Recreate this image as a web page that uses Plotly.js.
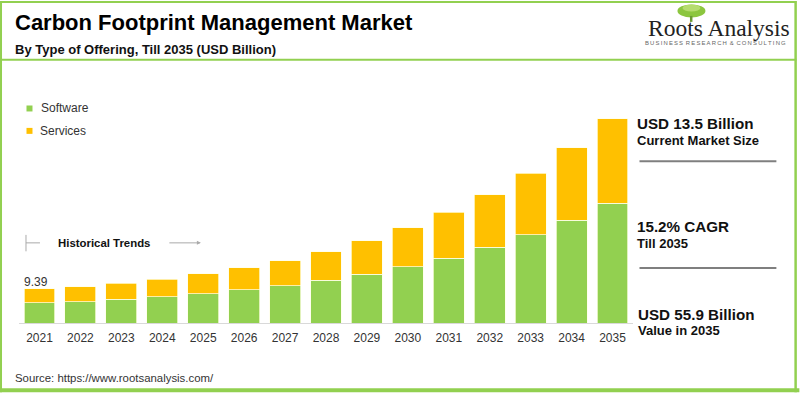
<!DOCTYPE html>
<html>
<head>
<meta charset="utf-8">
<script src="https://cdn.plot.ly/plotly-3.0.1.min.js"></script>
<style>html,body{margin:0;padding:0;background:#fff;}#chart{width:800px;height:393px;}</style>
</head>
<body>
<div id="chart"></div>
<script>
// ---- data ----
const years = ['2021','2022','2023','2024','2025','2026','2027','2028','2029','2030','2031','2032','2033','2034','2035'];
const software = [5.60, 5.86, 6.49, 7.22, 7.96, 9.05, 10.14, 11.77, 13.41, 15.40, 17.77, 20.76, 24.20, 28.12, 32.75];
const services = [3.79, 4.09, 4.35, 4.82, 5.54, 6.07, 6.89, 7.79, 9.07, 10.70, 12.53, 14.44, 16.81, 19.89, 23.15];
const seriesNames = ['Software', 'Services'];
const seriesColors = ['#92D050', '#FFC000'];
const firstLabel = '9.39';
const titleText = 'Carbon Footprint Management Market';
const subtitleText = 'By Type of Offering, Till 2035 (USD Billion)';
const sideTexts = [['USD 13.5 Billion', 'Current Market Size'], ['15.2% CAGR', 'Till 2035'], ['USD 55.9 Billion', 'Value in 2035']];
const sourceText = 'Source: https://www.rootsanalysis.com/';

// ---- layout helpers ----
const W = 800, H = 393;
const M = {l: 19, r: 166.5, t: 103.5, b: 69.5, pad: 0};
const PW = W - M.l - M.r, PH = H - M.t - M.b;
const px = x => (x - M.l) / PW;
const py = y => (H - M.b - y) / PH;
const FONT = 'Liberation Sans, Arial, sans-serif';
const GREEN = '#92D050';

const traces = [
  {type: 'bar', x: years, y: software, name: seriesNames[0], marker: {color: seriesColors[0], line: {color: 'rgba(255,255,230,0.9)', width: 0.8}}},
  {type: 'bar', x: years, y: services, name: seriesNames[1], marker: {color: seriesColors[1], line: {color: 'rgba(255,255,230,0.9)', width: 0.8}}}
];

function rect(x0, y0, x1, y1, color) {
  return {type: 'rect', xref: 'paper', yref: 'paper', x0: px(x0), x1: px(x1), y0: py(y0), y1: py(y1), fillcolor: color, line: {width: 0}, layer: 'above'};
}
function line(x0, y0, x1, y1, color, w) {
  return {type: 'line', xref: 'paper', yref: 'paper', x0: px(x0), x1: px(x1), y0: py(y0), y1: py(y1), line: {color: color, width: w}};
}
function txt(x, y, text, size, opts) {
  return Object.assign({xref: 'paper', yref: 'paper', x: px(x), y: py(y), text: text, showarrow: false, xanchor: 'left', yanchor: 'middle', font: {family: FONT, size: size, color: '#1a1a1a'}}, opts || {});
}
function bold(size) { return {family: FONT, size: size, color: '#111', weight: 'bold'}; }

const shapes = [
  rect(0, 0, 797, 2, GREEN),
  rect(0, 0, 2, 393, GREEN),
  rect(795, 0, 797.5, 393, GREEN),
  rect(0, 389, 800, 393, GREEN),
  rect(0, 58, 797, 60, GREEN),
  // legend swatches
  rect(26.5, 105, 32.5, 111, seriesColors[0]),
  rect(26.5, 127.5, 32.5, 133.5, seriesColors[1]),
  // historical bracket
  line(26, 235, 26, 251.5, '#aaaaaa', 1),
  line(26, 243, 40, 243, '#aaaaaa', 1),
  // side separators
  line(640, 161, 777, 161, '#7f7f7f', 2),
  line(640, 268.3, 777, 268.3, '#7f7f7f', 2),
  // logo tree
  {type: 'circle', xref: 'paper', yref: 'paper', x0: px(678), x1: px(706), y0: py(3.5), y1: py(16.5), fillcolor: '#8cc63f', line: {width: 0}, layer: 'above'},
  {type: 'circle', xref: 'paper', yref: 'paper', x0: px(683), x1: px(701), y0: py(3.5), y1: py(10.5), fillcolor: '#b5dc6e', line: {width: 0}, layer: 'above'},
  rect(690.5, 15, 693, 21, '#6a9a34')
];

const firstIdx = years.indexOf(years[0]);
const annotations = [
  txt(13, 48.5, subtitleText, 13, {font: bold(13)}),
  txt(39.5, 108, seriesNames[0], 12, {font: {family: FONT, size: 12, color: '#333'}}),
  txt(38.5, 130.5, seriesNames[1], 12, {font: {family: FONT, size: 12, color: '#333'}}),
  txt(56, 242.7, 'Historical Trends', 11.4, {font: bold(11.4)}),
  {xref: 'paper', yref: 'paper', x: px(201), y: py(243), ax: -33, ay: 0, text: '', showarrow: true, arrowhead: 2, arrowsize: 0.8, arrowwidth: 1, arrowcolor: '#aaaaaa'},
  {xref: 'x', yref: 'y', x: firstIdx, y: software[0] + services[0], text: firstLabel, showarrow: false, xanchor: 'center', yanchor: 'bottom', xshift: -3, yshift: -2, font: {family: FONT, size: 12, color: '#333'}},
  txt(636, 123.3, sideTexts[0][0], 15.2, {font: bold(15.2)}),
  txt(636, 140, sideTexts[0][1], 13, {font: bold(13)}),
  txt(636, 226.7, sideTexts[1][0], 15.2, {font: bold(15.2)}),
  txt(636, 243.3, sideTexts[1][1], 13, {font: bold(13)}),
  txt(637, 315, sideTexts[2][0], 15.2, {font: bold(15.2)}),
  txt(637, 331, sideTexts[2][1], 13, {font: bold(13)}),
  txt(13, 378.3, sourceText, 11.4, {font: {family: FONT, size: 11.4, color: '#333'}}),
  // logo
  txt(647, 27, 'Roots Analysis', 23.5, {font: {family: 'Liberation Serif, Times New Roman, serif', size: 23.5, color: '#222'}}),
  txt(644, 42.7, 'B\u2009U\u2009S\u2009I\u2009N\u2009E\u2009S\u2009S\u2009 R\u2009E\u2009S\u2009E\u2009A\u2009R\u2009C\u2009H\u2009 &\u2009 C\u2009O\u2009N\u2009S\u2009U\u2009L\u2009T\u2009I\u2009N\u2009G', 5.9, {font: {family: FONT, size: 5.9, color: '#666'}})
];

const layout = {
  width: W, height: H,
  margin: M,
  paper_bgcolor: '#ffffff', plot_bgcolor: '#ffffff',
  barmode: 'stack', bargap: 0.245,
  showlegend: false,
  title: {text: '<b>' + titleText + '</b>', x: 15 / W, xanchor: 'left', xref: 'container', y: 1 - 22 / H, yanchor: 'middle', yref: 'container', font: {family: FONT, size: 22, color: '#000'}},
  xaxis: {type: 'category', range: [-0.5, years.length - 0.5], showline: true, linecolor: '#d9d9d9', linewidth: 1, ticks: '', ticklabelstandoff: 4, showgrid: false, zeroline: false, tickfont: {family: FONT, size: 12, color: '#333'}, fixedrange: true},
  yaxis: {range: [0, 60], visible: false, showgrid: false, zeroline: false, fixedrange: true},
  shapes: shapes,
  annotations: annotations
};

Plotly.newPlot('chart', traces, layout, {displayModeBar: false, staticPlot: true});
</script>
</body>
</html>
